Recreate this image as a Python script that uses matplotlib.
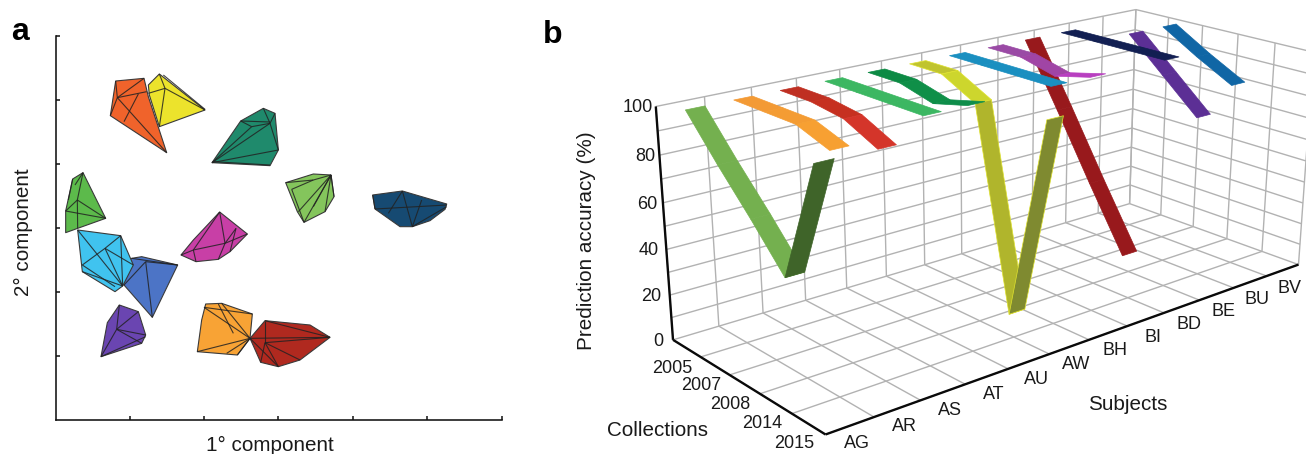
import numpy as np
import matplotlib
matplotlib.use('Agg')
import matplotlib.pyplot as plt
from matplotlib.collections import LineCollection
from mpl_toolkits.mplot3d.art3d import Poly3DCollection, Line3DCollection

plt.rcParams['font.family'] = ['Liberation Sans', 'DejaVu Sans']
W, H = 1306, 454

# ---------- panel a: component scores, cluster hulls and inner links ----------
hull_yellow = [(478,222),(615,330),(478,380),(448,285),(445,255)]
in_yellow = [(478,222,495,265),(495,265,478,380),(495,265,445,280),(495,265,615,330),(490,225,615,328)]
hull_red_orange = [(347,243),(432,235),(445,290),(500,458),(331,347)]
in_red_orange = [(347,243,352,293),(352,293,331,347),(352,293,440,275),(432,235,352,293),(352,293,500,458),(415,282,372,365)]
hull_teal = [(722,363),(790,325),(825,340),(835,450),(810,497),(636,488)]
in_teal = [(636,488,810,370),(636,488,835,450),(722,363,755,380),(755,380,810,370),(790,325,810,370),(810,370,825,340),(810,370,835,450),(722,363,810,366),(636,488,755,380),(640,485,810,495)]
hull_lime = [(857,548),(940,522),(993,525),(1002,590),(975,635),(912,667),(892,635)]
in_lime = [(857,548,940,540),(940,540,993,525),(875,568,940,540),(875,568,912,667),(993,525,895,635),(993,525,912,667),(993,525,975,635),(993,525,1002,590),(993,525,940,620)]
hull_navy = [(1118,585),(1207,573),(1340,612),(1335,628),(1290,662),(1237,680),(1200,680),(1125,627)]
in_navy = [(1118,585,1125,627),(1207,573,1165,640),(1207,573,1237,680),(1340,615,1125,627),(1265,600,1237,680),(1237,680,1340,620)]
hull_magenta = [(659,636),(742,702),(690,755),(655,778),(588,785),(543,765),(580,720)]
in_magenta = [(580,750,675,730),(675,730,742,702),(659,636,675,730),(675,730,655,778),(580,750,588,785),(580,750,659,636),(708,685,675,730),(708,685,690,755),(580,750,543,765)]
hull_green = [(218,537),(249,518),(317,655),(233,685),(197,698),(197,633)]
in_green = [(232,600,249,518),(232,600,197,633),(232,600,317,655),(232,600,233,685),(197,633,317,655),(218,537,205,600),(225,555,249,518)]
hull_blue = [(395,775),(425,770),(533,795),(457,952),(372,855),(360,800)]
in_blue = [(437,785,457,952),(437,785,533,795),(437,785,372,855),(395,775,533,795)]
hull_cyan = [(233,690),(362,707),(400,795),(368,858),(345,875),(247,815)]
in_cyan = [(233,690,368,858),(315,745,362,707),(315,745,400,795),(315,745,368,858),(247,795,315,745),(247,815,368,858),(247,795,345,860),(362,707,368,858)]
hull_purple = [(358,915),(415,935),(437,1005),(425,1030),(303,1070),(322,968)]
in_purple = [(350,988,358,915),(350,988,303,1070),(350,988,437,1005),(350,988,415,935),(303,1070,437,1010),(350,988,425,1030)]
hull_orange = [(617,912),(665,910),(757,942),(750,1015),(712,1065),(592,1055),(605,960)]
in_orange = [(612,922,750,1015),(665,910,750,1015),(592,1055,750,1015),(712,1065,750,1015),(680,1060,750,1015),(655,912,700,1000),(612,922,757,942)]
hull_darkred = [(795,962),(930,975),(990,1012),(900,1080),(835,1100),(782,1087),(750,1015)]
in_darkred = [(795,962,795,1028),(795,962,990,1012),(750,1015,990,1012),(795,1028,990,1012),(795,1028,782,1087),(795,1028,835,1100),(795,1028,900,1080),(750,1015,835,1100)]

CLUSTERS = [
    (hull_yellow, in_yellow, '#ece32c'), (hull_red_orange, in_red_orange, '#f0632b'),
    (hull_teal, in_teal, '#1f8a6c'), (hull_lime, in_lime, '#84c55c'),
    (hull_navy, in_navy, '#164a72'), (hull_magenta, in_magenta, '#c83fa6'),
    (hull_green, in_green, '#5cba4b'), (hull_blue, in_blue, '#4c74c6'),
    (hull_cyan, in_cyan, '#40c3ef'), (hull_purple, in_purple, '#6a45b1'),
    (hull_orange, in_orange, '#f8a335'), (hull_darkred, in_darkred, '#b0291f'),
]
x_ticks_a = [390, 612, 835, 1058, 1282, 1505]
y_ticks_a = [1068, 876, 684, 492, 300, 108]

# ---------- panel b: prediction accuracy (%) per subject and collection ----------
SUBJECTS = ['AG','AR','AS','AT','AU','AW','BH','BI','BD','BE','BU','BV']
COLLECTIONS = ['2005','2007','2008','2014','2015']
acc_AG = [100, 83, 67, 50, 100]
acc_AR = [100, 100, 100, 95, None]
acc_AS = [100, 100, 98, 91, None]
acc_AT = [100, 100, 100, 100, None]
acc_AU = [100, 100, 96, 100, None]
acc_AW = [100, 100, 92, 5, 95]
acc_BH = [100, 100, 100, 100, None]
acc_BI = [100, 100, 96, 100, None]
acc_BD = [100, 72, 43, 15, None]
acc_BE = [100, 100, 100, 100, None]
acc_BU = [None, 100, 85, 70, None]
acc_BV = [None, 100, 90, 81, None]
ACCURACY = [acc_AG, acc_AR, acc_AS, acc_AT, acc_AU, acc_AW, acc_BH, acc_BI, acc_BD, acc_BE, acc_BU, acc_BV]
SEGMENT_COLORS = [
    ['#74b04f','#74b04f','#74b04f','#3f6429'],
    ['#f39a35','#f49c33','#f7a032'],
    ['#bf2f22','#c63020','#d4352a'],
    ['#3cb762','#3cb762','#3cb762'],
    ['#0c8a44','#0f8f48','#0e8d4a'],
    ['#c0c42f','#cdd62d','#b0b52c','#7f8a30'],
    ['#1a8fc0','#1a8fc0','#1a8fc0'],
    ['#9a4aa5','#a045a5','#b83fc0'],
    ['#98191c','#98191c','#98191c'],
    ['#121f52','#121f52','#121f52'],
    ['#5c2f95','#5c2f95'],
    ['#1066a5','#1066a5'],
]
RIBBON_WIDTH = 0.4

# camera calibration: (subject, collection, accuracy) -> picture position
CAMERA = np.array([
 (0,0,0,671.7,340),(0,0,100,655,106),(0,5,0,825,435.7),(12,5,0,1298.7,265),(12,0,100,1135,10),(12,0,0,1129.7,204),
 (12,1,0,1161,213),(12,2,0,1192,228),(12,3,0,1227,239),(12,4,0,1262,250),
 (12,1,100,1169,18),(12,2,100,1203,27),(12,3,100,1238,35),(12,4,100,1275,43),
 (1,0,0,719,327),(2,0,0,762,313),(3,0,0,805,301),(4,0,0,846,288),(5,0,0,886,276),
 (1,0,100,704,97),(2,0,100,751,85),(3,0,100,796,78),(4,0,100,841,69),(5,0,100,882,60),
 (0,1,0,703,357),(0,2,0,732,375),(0,3,0,762,394),(0,4,0,795,414),
 (1,5,0,872,417),(2,5,0,919,401),(3,5,0,965,384),(4,5,0,1006.5,369),(5,5,0,1048,354),(6,5,0,1087,340),
 (7,5,0,1126,326),(8,5,0,1165,312),(9,5,0,1202,299),(10,5,0,1234,287),(11,5,0,1268,276),
], float)

A = []
for u, v, z, x, y in CAMERA:
    A.append([u,v,z,1,0,0,0,0,-x*u,-x*v,-x*z,-x])
    A.append([0,0,0,0,u,v,z,1,-y*u,-y*v,-y*z,-y])
P = np.linalg.svd(np.array(A))[2][-1].reshape(3, 4)

def pict(u, v, z):
    w = P @ np.array([u, v, z, 1.0])
    return w[0]/w[2], w[1]/w[2]

fig = plt.figure(figsize=(W/100, H/100), dpi=100)

def ftext(x, y, s, **kw):
    return fig.text(x/W, 1-y/H, s, **kw)

# ---------- panel a ----------
ax = fig.add_axes([56/W, 34/H, 445.7/W, 384/H])
ax.set_xlim(168, 1505)
ax.set_ylim(1260, 108)
for i, (hull, inner, col) in enumerate(CLUSTERS):
    xs, ys = zip(*hull)
    ax.fill(xs, ys, facecolor=col, edgecolor='#3a3a3a', linewidth=0.8, zorder=3+i*0.1, joinstyle='round')
    segs = [[(a, b), (c, d)] for a, b, c, d in inner]
    ax.add_collection(LineCollection(segs, colors='#222222', linewidths=0.8, alpha=0.85, zorder=3.05+i*0.1))
ax.set_xticks(x_ticks_a)
ax.set_yticks(y_ticks_a)
ax.tick_params(direction='in', length=3, width=1.1, labelbottom=False, labelleft=False, color='#111111')
for s in ('top', 'right'):
    ax.spines[s].set_visible(False)
for s in ('left', 'bottom'):
    ax.spines[s].set_linewidth(1.15)
    ax.spines[s].set_color('#111111')
ftext(270, 445, '1° component', ha='center', va='center', fontsize=14.9, color='#1a1a1a')
ftext(23, 232, '2° component', ha='center', va='center', rotation=90, fontsize=14.9, color='#1a1a1a')
ftext(11, 40, 'a', fontsize=23, fontweight='bold', va='baseline', ha='left')
ftext(543, 43, 'b', fontsize=23, fontweight='bold', va='baseline', ha='left')

# ---------- panel b ----------
S = 770
ax3 = fig.add_axes([536/W, (H-612)/H, S/W, S/H], projection='3d')
ax3.patch.set_visible(False)
ax3.set_axis_off()
ax3.computed_zorder = False
ax3.set_xlim(0, 12); ax3.set_ylim(0, 5); ax3.set_zlim(0, 100)

def camera_matrix():
    to_display = np.array([[1, 0, 0], [0, -1, H], [0, 0, 1.0]])
    T = ax3.transData.get_affine().inverted().get_matrix() @ to_display
    Q = T @ P
    centre = np.linalg.svd(P)[2][-1]
    return np.vstack([Q[0], Q[1], centre, Q[2]])
ax3.get_proj = camera_matrix

nu, nv = len(SUBJECTS), len(COLLECTIONS)
grid = []
for u in range(nu + 1):
    grid.append([(u, 0, 0), (u, nv, 0)])
    grid.append([(u, 0, 0), (u, 0, 100)])
for v in range(nv + 1):
    grid.append([(0, v, 0), (nu, v, 0)])
    grid.append([(nu, v, 0), (nu, v, 100)])
for z in range(10, 101, 10):
    grid.append([(0, 0, z), (nu, 0, z)])
    grid.append([(nu, 0, z), (nu, nv, z)])
ax3.add_collection3d(Line3DCollection(grid, colors='#b2b2b2', linewidths=1.0, zorder=1))
axes_lines = [[(0, 0, 0), (0, 0, 100)], [(0, 0, 0), (0, nv, 0)], [(0, nv, 0), (nu, nv, 0)]]
ax3.add_collection3d(Line3DCollection(axes_lines, colors='#0a0a0a', linewidths=1.7, zorder=2))

zo = 3.0
for i in range(nu - 1, -1, -1):
    uc = i + 0.5
    knots = [(j + 0.5, val) for j, val in enumerate(ACCURACY[i]) if val is not None]
    for k in range(len(knots) - 1):
        (v0, z0), (v1, z1) = knots[k], knots[k + 1]
        col = SEGMENT_COLORS[i][k]
        h = RIBBON_WIDTH / 2
        quad = [(uc-h, v0, z0), (uc+h, v0, z0), (uc+h, v1, z1), (uc-h, v1, z1)]
        edge = '#dfe22f' if SUBJECTS[i] == 'AW' else col
        ax3.add_collection3d(Poly3DCollection([quad], facecolors=col, edgecolors=edge, linewidths=0.5, zorder=zo))
        zo += 0.01

# tick labels and axis titles
for i, name in enumerate(SUBJECTS):
    x, y = pict(i + 0.5, nv, 0)
    ftext(x + 7, y + 18, name, ha='center', va='center', fontsize=13, color='#1a1a1a')
for j, name in enumerate(COLLECTIONS):
    x, y = pict(0, j + 0.5, 0)
    ftext(x - 14, y + 20, name, ha='center', va='center', fontsize=13, color='#1a1a1a')
for z in range(0, 101, 20):
    x, y = pict(0, 0, z)
    ftext(x - 10 + 0.07*z, y + 1.5, str(z), ha='right', va='center', fontsize=13, color='#1a1a1a')
ftext(586, 241, 'Prediction accuracy (%)', ha='center', va='center', rotation=90, fontsize=14.9, color='#1a1a1a')
ftext(658, 431, 'Collections', ha='center', va='center', fontsize=14.9, color='#1a1a1a')
ftext(1128, 405, 'Subjects', ha='center', va='center', fontsize=14.9, color='#1a1a1a')

fig.savefig('out.png', dpi=100)
